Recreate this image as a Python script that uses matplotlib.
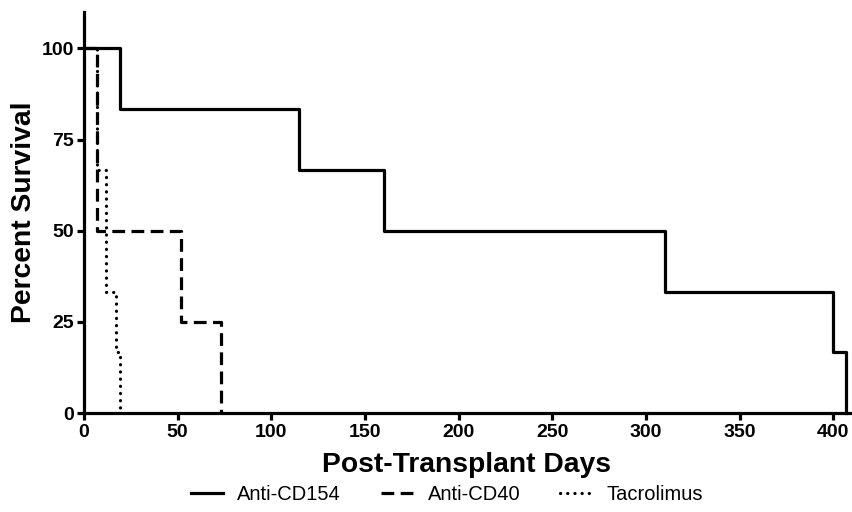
import matplotlib
matplotlib.use("Agg")
import matplotlib.pyplot as plt

plt.rcParams['font.family'] = ['Liberation Sans', 'DejaVu Sans']

# Data (Kaplan-Meier step curves)
cd154_days = [0, 19, 115, 160, 310, 400, 407]
cd154_surv = [100, 83.3, 66.7, 50, 33.3, 16.7, 0]
cd40_days = [0, 7, 52, 73]
cd40_surv = [100, 50, 25, 0]
tac_days = [0, 7, 12, 17, 19]
tac_surv = [100, 66.7, 33.3, 16.7, 0]
series_names = ["Anti-CD154", "Anti-CD40", "Tacrolimus"]
x_ticks = [0, 50, 100, 150, 200, 250, 300, 350, 400]
y_ticks = [0, 25, 50, 75, 100]

fig = plt.figure(figsize=(8.53, 5.12), dpi=100)
ax = fig.add_axes([84/853, 1-413/512, (850-84)/853, (413-12)/512])

lw = 2.3
ax.plot(tac_days, tac_surv, drawstyle='steps-post', color='black', lw=lw,
        linestyle=(0, (0.05, 2.2)), dash_capstyle='round', clip_on=False, label=series_names[2])
ax.plot(cd40_days, cd40_surv, drawstyle='steps-post', color='black', lw=lw,
        linestyle=(0, (4, 2)), clip_on=False, label=series_names[1])
ax.plot(cd154_days, cd154_surv, drawstyle='steps-post', color='black', lw=lw,
        linestyle='-', clip_on=False, label=series_names[0])

ax.set_xlim(0, 409)
ax.set_ylim(0, 110)
ax.set_xticks(x_ticks)
ax.set_yticks(y_ticks)
for s in ['top', 'right']:
    ax.spines[s].set_visible(False)
for s in ['left', 'bottom']:
    ax.spines[s].set_linewidth(2.3)
ax.tick_params(axis='both', direction='out', length=5, width=2.3, labelsize=14, pad=2)
ax.tick_params(axis='x', pad=3)
for lab in ax.get_xticklabels() + ax.get_yticklabels():
    lab.set_fontweight('bold')

ax.set_xlabel("Post-Transplant Days", fontsize=20.3, fontweight='bold', labelpad=8)
ax.set_ylabel("Percent Survival", fontsize=20.3, fontweight='bold', labelpad=3.5)

handles, labels = ax.get_legend_handles_labels()
order = [2, 1, 0]
fig.legend([handles[i] for i in order], [labels[i] for i in order],
           loc='lower center', bbox_to_anchor=(447/853, -0.02), ncol=3, frameon=False,
           fontsize=14.5, handlelength=1.6, columnspacing=2.0, handletextpad=0.7)

fig.savefig("out.png", dpi=100)
